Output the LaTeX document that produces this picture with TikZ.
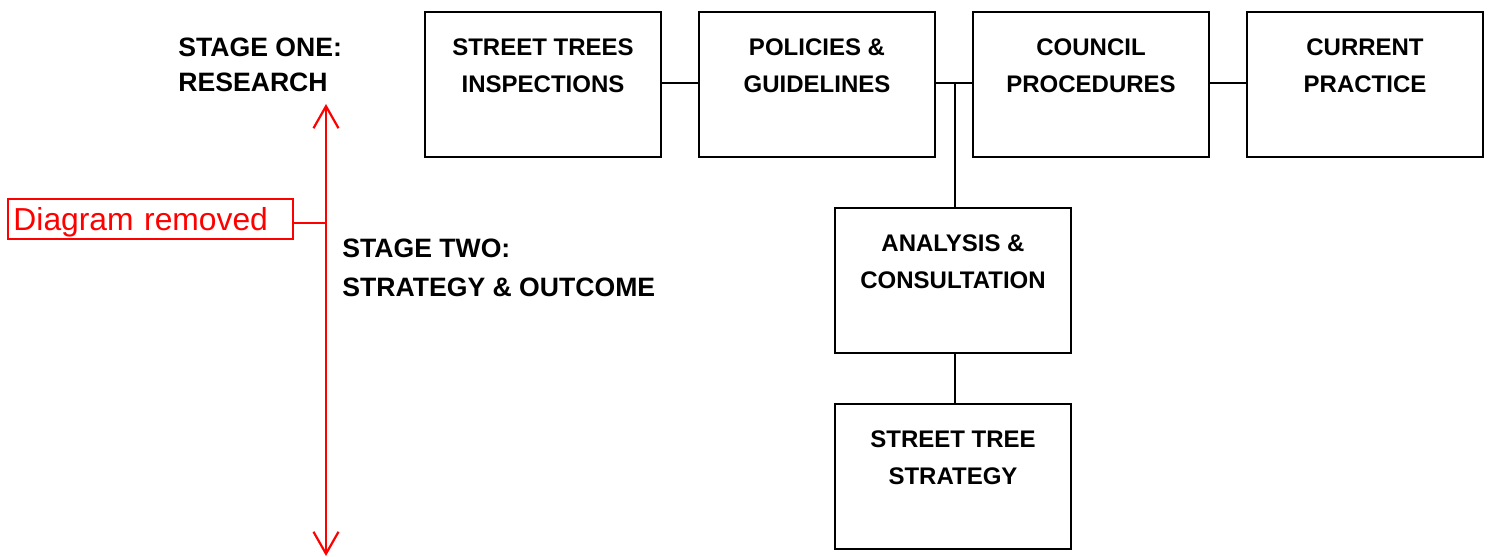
\documentclass[tikz,border=0pt]{standalone}
\usepackage{fontspec}
\setmainfont{Liberation Sans}
\usetikzlibrary{arrows.meta}
\definecolor{rem}{RGB}{255,0,0}
\tikzset{
  box/.style={draw=black, line width=1pt, minimum width=118pt, minimum height=72.5pt, inner sep=0pt},
  boxtext/.style={align=center, font=\fontsize{12}{18.5}\selectfont\bfseries, inner sep=0pt},
  stagetext/.style={align=left, anchor=west, inner sep=0pt},
  conn/.style={draw=black, line width=1pt},
  redline/.style={draw=rem, line width=1.1pt},
  redbox/.style={draw=rem, line width=1.1pt, minimum width=142.5pt, minimum height=20pt, inner sep=0pt, text=rem, font=\fontsize{15.9}{18}\selectfont, text height=14pt, text depth=3pt},
}
\begin{document}
\begin{tikzpicture}[x=0.5pt,y=-0.5pt]
\useasboundingbox (0,0) rectangle (1489,557);
% top row boxes
\node[box] (b1) at (543,84.5) {};
\node[box] (b2) at (817,84.5) {};
\node[box] (b3) at (1091,84.5) {};
\node[box] (b4) at (1365,84.5) {};
\node[box] (b5) at (953,280.5) {};
\node[box] (b6) at (953,476.5) {};
\node[boxtext] (t1) at (543,65.5) {STREET TREES\\INSPECTIONS};
\node[boxtext] (t2) at (817,65.5) {POLICIES \&\\GUIDELINES};
\node[boxtext] (t3) at (1091,65.5) {COUNCIL\\PROCEDURES};
\node[boxtext] (t4) at (1365,65.5) {CURRENT\\PRACTICE};
\node[boxtext] (t5) at (953,261.5) {ANALYSIS \&\\CONSULTATION};
\node[boxtext] (t6) at (953,457.5) {STREET TREE\\STRATEGY};
% connectors
\coordinate (j) at (955,83);
\draw[conn] (b1.east |- j) -- (b2.west |- j);
\draw[conn] (b2.east |- j) -- (b3.west |- j);
\draw[conn] (b3.east |- j) -- (b4.west |- j);
\draw[conn] (j) -- (j |- b5.north);
\draw[conn] (b5.south -| j) -- (b6.north -| j);
% stage labels
\node[stagetext, font=\fontsize{13.3}{17.5}\selectfont\bfseries] (s1) at (178,65) {STAGE ONE:\\RESEARCH};
\node[stagetext, font=\fontsize{13.3}{19.5}\selectfont\bfseries] (s2) at (342,268) {STAGE TWO:\\STRATEGY \& OUTCOME};
% red arrow and box
\coordinate (at) at (326,104);
\coordinate (ab) at (326,556);
\draw[redline, {Straight Barb[length=11pt,width=12.5pt,line width=1.1pt]}-{Straight Barb[length=11pt,width=12.5pt,line width=1.1pt]}] (at) -- (ab);
\node[redbox, text width=140pt, align=left] (rb) at (150.5,219) {\hspace{1.5pt}Diagram removed};
\coordinate (rj) at (326,223);
\draw[redline] (rb.east |- rj) -- (rj);
\end{tikzpicture}
\end{document}
